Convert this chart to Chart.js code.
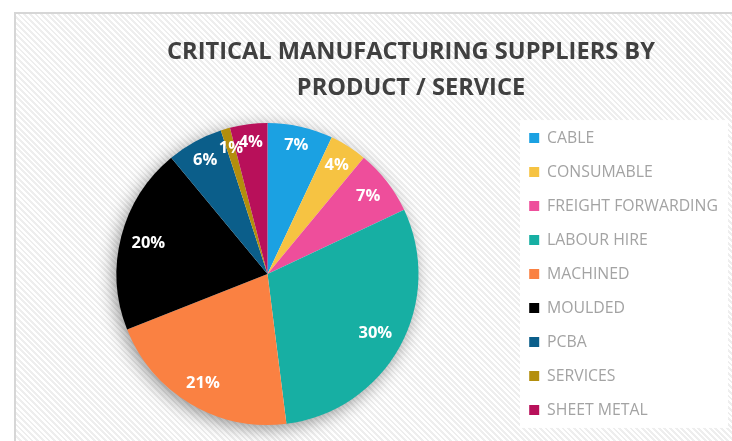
<!DOCTYPE html>
<html><head><meta charset="utf-8">
<script src="https://cdn.jsdelivr.net/npm/chart.js@4.4.0/dist/chart.umd.min.js"></script>
<style>
html,body{margin:0;padding:0;width:732px;height:441px;overflow:hidden;background:#fff;}
#frame{position:absolute;left:14px;top:12px;width:820px;height:460px;border-left:2px solid #d6d6d6;border-top:2px solid #d6d6d6;
background:repeating-linear-gradient(45deg,#ffffff 0px,#ffffff 2px,#eeeeee 2px,#eeeeee 4px);}
#wrap{position:absolute;left:14px;top:12px;width:794px;height:429px;}
</style></head>
<body><div id="frame"></div><div id="wrap"><canvas id="c"></canvas></div>
<script>
const categories = ['CABLE','CONSUMABLE','FREIGHT FORWARDING','LABOUR HIRE','MACHINED','MOULDED','PCBA','SERVICES','SHEET METAL'];
const values = [7, 4, 7, 30, 21, 20, 6, 1, 4];
const sliceColors = ['#1BA1E2','#F6C342','#EE4E9B','#17AFA3','#FA8142','#000000','#0B5E8A','#B38E0D','#B8105A'];
const titleLines = ['CRITICAL MANUFACTURING SUPPLIERS BY','PRODUCT / SERVICE'];

const LEGEND_WIDTH = 287;

const legendSizer = {
  id: 'legendSizer',
  beforeLayout(chart) {
    const lg = chart.legend;
    if (lg && !lg._sized) {
      const fit = lg.fit;
      lg.fit = function () { fit.call(this); this.width = LEGEND_WIDTH; };
      lg._sized = true;
    }
  },
  beforeDraw(chart) {
    const lg = chart.legend;
    if (!lg || !lg.legendHitBoxes || !lg.legendHitBoxes.length) return;
    const hb = lg.legendHitBoxes;
    const ctx = chart.ctx;
    const x0 = lg.left + 9;
    const y0 = hb[0].top - 10;
    const y1 = hb[hb.length - 1].top + hb[hb.length - 1].height + 10;
    ctx.save();
    ctx.fillStyle = '#ffffff';
    ctx.fillRect(x0, y0, 208, y1 - y0);
    ctx.restore();
  }
};

const pieShadow = {
  id: 'pieShadow',
  beforeDatasetsDraw(chart) {
    const arc = chart.getDatasetMeta(0).data[0];
    if (!arc) return;
    const {x, y, outerRadius} = arc.getProps(['x', 'y', 'outerRadius'], true);
    const ctx = chart.ctx;
    ctx.save();
    ctx.shadowColor = 'rgba(0,0,0,0.45)';
    ctx.shadowBlur = 18;
    ctx.shadowOffsetX = -3;
    ctx.shadowOffsetY = 4;
    ctx.fillStyle = '#ffffff';
    ctx.beginPath();
    ctx.arc(x, y, outerRadius - 1, 0, Math.PI * 2);
    ctx.fill();
    ctx.restore();
  }
};

const sliceLabels = {
  id: 'sliceLabels',
  afterDatasetsDraw(chart) {
    const ctx = chart.ctx;
    const meta = chart.getDatasetMeta(0);
    const data = chart.data.datasets[0].data;
    const total = data.reduce((a, b) => a + b, 0);
    ctx.save();
    ctx.font = 'bold 16.5px "Open Sans"';
    ctx.fillStyle = '#ffffff';
    ctx.textAlign = 'center';
    ctx.textBaseline = 'middle';
    meta.data.forEach((arc, i) => {
      const p = arc.getProps(['x', 'y', 'startAngle', 'endAngle', 'outerRadius'], true);
      const mid = (p.startAngle + p.endAngle) / 2;
      const txt = Math.round(data[i] / total * 100) + '%';
      const w = ctx.measureText(txt).width;
      const h = 13;
      const ext = Math.abs(Math.cos(mid)) * w / 2 + Math.abs(Math.sin(mid)) * h / 2;
      const r = p.outerRadius - 10 - ext;
      ctx.fillText(txt, p.x + Math.cos(mid) * r, p.y + Math.sin(mid) * r);
    });
    ctx.restore();
  }
};

new Chart(document.getElementById('c'), {
  type: 'pie',
  data: {
    labels: categories,
    datasets: [{
      data: values,
      backgroundColor: sliceColors,
      borderWidth: 0,
      hoverOffset: 0
    }]
  },
  options: {
    responsive: true,
    maintainAspectRatio: false,
    animation: false,
    events: [],
    radius: 151,
    layout: {padding: {left: 10, right: 10, top: 0, bottom: 0}},
    plugins: {
      title: {
        display: true,
        text: titleLines,
        color: '#404040',
        font: {family: '"Open Sans"', size: 23.6, weight: 'bold', lineHeight: '36px'},
        padding: {top: 22, bottom: 1}
      },
      legend: {
        position: 'right',
        fullSize: false,
        align: 'center',
        labels: {
          boxWidth: 10,
          boxHeight: 10,
          padding: 18.2,
          color: '#a3a3a3',
          font: {family: '"Open Sans"', size: 15.8}
        }
      },
      tooltip: {enabled: false}
    }
  },
  plugins: [legendSizer, pieShadow, sliceLabels]
});
</script>
</body></html>
